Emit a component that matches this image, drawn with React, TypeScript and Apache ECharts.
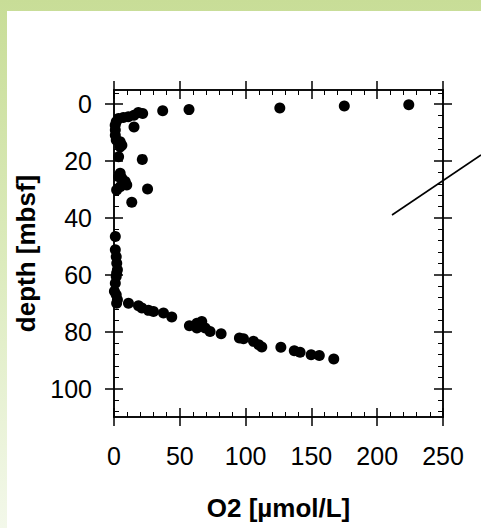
import React, { useEffect, useRef } from "react";
import * as echarts from "echarts";

// O2 concentration [µmol/L] and depth [mbsf] of each sample
const o2Values = [
  224, 175, 126, 57, 37, 21.8, 18.5, 15.2, 10.9, 7.1, 3.4, 1.7, 0.9, 15.2, 1.0, 1.0, 1.7, 4.7, 6.0, 4.7,
  3.5, 21.5, 4.7, 3.5, 6.0, 8.5, 9.7, 4.7, 2.0, 25.5, 13.5, 1.0, 1.0, 1.7, 2.1, 2.6, 2.0, 1.7, 1.0, 0.3,
  1.7, 2.6, 2.0, 11.0, 18.6, 21.2, 26.2, 30.0, 37.6, 43.9, 57.3, 63.0, 66.7, 63.0, 69.3, 73.0, 81.4, 95.3,
  98.4, 106.0, 110.0, 112.3, 126.8, 137.0, 141.4, 149.8, 156.0, 167.0,
];
const depthValues = [
  0.2, 0.6, 1.3, 1.9, 2.3, 3.3, 2.9, 3.9, 4.4, 4.7, 5.0, 6.2, 7.4, 8.0, 9.1, 10.9, 12.6, 13.2, 14.4, 15.0,
  18.5, 19.4, 24.3, 25.5, 26.0, 27.2, 28.4, 29.0, 30.2, 29.8, 34.5, 46.5, 51.2, 53.6, 55.9, 58.2, 59.4, 60.6, 63.0, 65.8,
  67.0, 68.8, 70.0, 70.0, 70.9, 71.7, 72.5, 72.9, 73.4, 74.8, 77.9, 77.0, 76.4, 78.7, 78.7, 79.9, 80.7, 82.2,
  82.5, 83.4, 84.6, 85.4, 85.5, 86.7, 87.2, 88.1, 88.4, 89.6,
];

const xTicks = [0, 50, 100, 150, 200, 250];
const yTicks = [0, 20, 40, 60, 80, 100];
const xName = "O2 [\u00b5mol/L]";
const yName = "depth [mbsf]";

const FONT = "Liberation Sans, Arial, sans-serif";

export default function App() {
  const ref = useRef<HTMLDivElement>(null);

  useEffect(() => {
    if (!ref.current) return;
    const chart = echarts.init(ref.current, null, { renderer: "svg" });

    const lineStyle = { color: "#000", width: 1.5 };
    const xBase = {
      type: "value" as const,
      min: xTicks[0],
      max: xTicks[xTicks.length - 1],
      interval: xTicks[1] - xTicks[0],
      splitLine: { show: false },
      axisLine: { show: true, onZero: false, lineStyle },
    };
    const yBase = {
      type: "value" as const,
      min: -5,
      max: 110,
      splitNumber: 5,
      inverse: true,
      splitLine: { show: false },
      axisLine: { show: true, onZero: false, lineStyle },
    };
    const inner = {
      axisTick: { show: true, inside: true, length: 9, lineStyle },
      minorTick: { show: true, splitNumber: 5, length: 5, lineStyle: { color: "#000", width: 1 } },
    };
    const outer = {
      axisTick: { show: true, inside: false, length: 9, lineStyle },
      axisLabel: { show: false },
    };
    const labelStyle = { fontSize: 25, fontFamily: FONT, color: "#000" };
    const nameStyle = { fontSize: 26, fontFamily: FONT, fontWeight: "bold" as const, color: "#000" };

    chart.setOption({
      animation: false,
      backgroundColor: "transparent",
      grid: { left: 114, top: 90, width: 329, height: 327, containLabel: false },
      xAxis: [
        {
          ...xBase,
          ...inner,
          position: "bottom",
          axisLabel: { ...labelStyle, margin: 26 },
          name: xName,
          nameLocation: "middle",
          nameGap: 78,
          nameTextStyle: nameStyle,
        },
        { ...xBase, ...outer, position: "bottom" },
        { ...xBase, ...inner, position: "top", axisLabel: { show: false } },
        { ...xBase, ...outer, position: "top" },
      ],
      yAxis: [
        {
          ...yBase,
          position: "left",
          axisTick: { ...inner.axisTick, customValues: yTicks },
          minorTick: inner.minorTick,
          axisLabel: { ...labelStyle, margin: 22, customValues: yTicks },
          name: yName,
          nameLocation: "middle",
          nameGap: 74,
          nameTextStyle: nameStyle,
        },
        {
          ...yBase,
          position: "left",
          axisTick: { ...outer.axisTick, customValues: yTicks },
          axisLabel: { show: false },
        },
        {
          ...yBase,
          position: "right",
          axisTick: { ...inner.axisTick, customValues: yTicks },
          minorTick: inner.minorTick,
          axisLabel: { show: false },
        },
        {
          ...yBase,
          position: "right",
          axisTick: { ...outer.axisTick, customValues: yTicks },
          axisLabel: { show: false },
        },
      ],
      series: [
        {
          type: "scatter",
          xAxisIndex: 0,
          yAxisIndex: 0,
          symbol: "circle",
          symbolSize: 11,
          itemStyle: { color: "#000", opacity: 1 },
          data: o2Values.map((v, i) => [v, depthValues[i]]),
        },
      ],
      graphic: [
        {
          type: "line",
          shape: { x1: 392, y1: 215, x2: 481, y2: 155 },
          style: { stroke: "#000", lineWidth: 1.6 },
          silent: true,
        },
      ],
    });

    return () => chart.dispose();
  }, []);

  return (
    <div
      style={{
        position: "fixed",
        left: 0,
        top: 0,
        width: 481,
        height: 528,
        overflow: "hidden",
        background: "linear-gradient(to bottom, #c8dd97 0%, #dcebbd 50%, #f3f8ea 100%)",
      }}
    >
      <div
        style={{
          position: "absolute",
          left: 7,
          top: 11,
          right: 0,
          bottom: 0,
          background: "#ffffff",
        }}
      />
      <div ref={ref} style={{ position: "absolute", left: 0, top: 0, width: 481, height: 528 }} />
    </div>
  );
}
